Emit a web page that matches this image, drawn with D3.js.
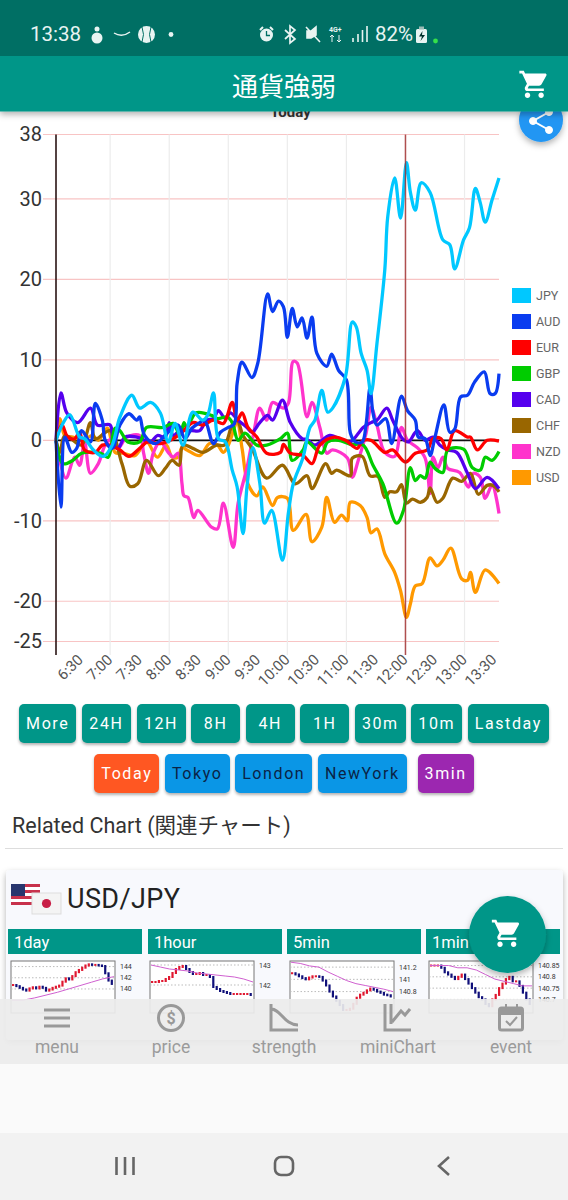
<!DOCTYPE html>
<html>
<head>
<meta charset="utf-8">
<script src="https://cdn.jsdelivr.net/npm/d3@7"></script>
<style>
  html, body { margin: 0; padding: 0; background: #fff; }
  #page { position: relative; width: 568px; height: 1200px; overflow: hidden; font-family: Roboto, "Noto Sans CJK JP", sans-serif; }
  svg { position: absolute; left: 0; top: 0; }
  .row { position: absolute; left: 0; width: 568px; display: flex; justify-content: center; }
  .btn { height: 39px; line-height: 40px; min-width: 49px; box-sizing: border-box; padding: 0 7px; margin: 0 2.8px; text-align: center;
    border-radius: 5px; font-size: 16px; font-weight: 400; letter-spacing: 1.6px; color: #fff; background: #009688;
    box-shadow: 0 2px 3px rgba(0,0,0,.3); white-space: nowrap; }
  .btn.today { background: #ff5722; }
  .btn.session { background: #0a96e6; color: #0b2345; }
  .btn.min { background: #9c27b0; margin-left: 8px; }
</style>
</head>
<body>
<div id="page"></div>
<script>
// time is minutes after 6:05, the left edge of the chart
var jpyTime = [0,7,14,24,29,38,48,57,65,77,85,96,106,114,121,129,139,149,154,160,165,172,179,184,190,194,200,207,212,219,230,236,241,251,258,263,270,276,281,294,301,305,310,316,320,326,334,337,344,350,356,360,365,371,380,393,400,405,414,420,426,431,436,443,450];
var jpyValues = [0,2.1,3.2,.4,.2,-1.2,-2,-.6,2.9,5.6,4,4.7,3.4,-.2,2.1,-.6,3.5,2.5,3.1,5.9,.2,-.2,-3.7,-5.8,-11.6,-5.8,-.9,-5.3,-10.3,-8.7,-14.9,-9.1,-5.4,-2.1,1.6,2.5,6.2,3.5,4,7.9,14.7,14.1,10.8,8.7,5.8,12,21.2,27.8,32.6,27.6,34.5,30.8,28.6,32,30.8,24.9,24.3,21.3,24.9,26.4,31.3,29.5,27.1,29.9,32.6];
var audTime = [0,5,9,16,21,26,35,40,47,50,57,65,74,82,85,90,101,113,124,131,138,146,151,160,167,175,181,184,189,199,205,215,220,226,231,235,240,245,250,255,260,265,275,280,287,295,299,304,311,315,319,322,326,335,341,351,357,365,368,375,380,385,394,400,405,411,418,425,435,441,446,450];
var audValues = [0,-8.3,.4,-1.5,-1,1.2,-.2,4.6,2.5,0,-1,1.9,3.3,2.5,2.9,.6,-.4,.9,1.9,.2,1.5,2.2,2.5,-.4,1,1.6,2,7.1,9.7,7.8,9.6,18.2,16,17.3,16.6,12.8,16.4,14.1,15.2,12.7,15.3,10.8,9.2,10.7,8.7,7.5,.9,-.2,-.2,2,6.6,3.4,1.9,2.7,-.4,5.5,3.7,2.5,.4,.2,-1.9,.4,4.4,1,1.4,5.4,5.6,7.2,8.5,5.8,5.8,8.3];
var eurTime = [0,6,12,19,24,29,40,47,55,65,74,85,93,106,119,128,139,149,160,170,179,184,189,195,204,214,228,231,238,251,260,268,283,294,306,311,320,334,342,355,365,377,383,391,397,405,418,421,428,438,450];
var eurValues = [0,1.9,.4,.2,1,-1.2,-1.5,-.6,-.6,-1.2,-2,-1,-.2,-.4,.2,1,2.2,1.9,2.5,2.1,4.7,2.5,3.4,1.6,.4,-1.6,-1.5,-.5,-1.6,-1.9,-2.9,-.6,.4,0,-1,-.1,0,-1.5,-1.2,-2.7,-1.6,-1.2,.2,.2,-1.2,1.2,.4,.4,-1.2,0,-.1];
var gbpTime = [0,7,17,26,45,53,60,65,73,85,92,109,119,126,130,133,142,158,164,174,179,185,192,204,214,228,235,240,251,255,270,276,287,299,312,322,332,346,353,360,365,370,375,380,385,393,398,414,423,431,436,443,450];
var gbpValues = [0,-2.9,-2.5,-1.6,-1.6,-2.1,1.5,1.2,-.2,-.2,1.6,1.6,2.1,.6,2.2,1.5,3.4,3.1,2.7,2.9,2.2,0,.9,-.6,-.6,.2,.9,-2.5,-1.2,-.2,-1.6,-.2,0,-.5,-.6,-3.1,-5.4,-10.3,-8.7,-3.4,-5,-4.4,-4.7,-2.7,-3.5,-4,-1.2,-1.1,-3.4,-3.7,-2.1,-2.5,-1.4];
var cadTime = [0,5,11,22,35,42,55,58,63,70,82,96,103,111,115,119,126,138,146,153,160,165,172,177,185,194,199,207,215,220,230,238,250,255,263,278,291,299,312,320,326,336,342,352,358,367,375,383,390,398,407,418,426,438,450];
var cadValues = [0,5.9,3.4,2.2,4,1.9,1.9,-.4,-1,.4,.4,-.2,.6,.4,2.2,.6,1.2,1.2,1.2,2.5,2.7,3.7,2.7,3.4,2.5,1.6,1,2.2,3.1,2.5,5,2.2,.2,.1,-.6,.6,0,-.2,1.6,2.2,2.5,4,2.5,.2,-.2,1.2,0,.4,-.6,-1.2,-1.5,-4.1,-6,-4.6,-6];
var chfTime = [0,4,9,26,35,40,55,67,75,83,92,104,111,118,125,129,139,149,163,171,179,184,190,199,214,230,243,255,260,274,280,285,299,301,311,319,327,334,339,346,351,356,362,370,377,380,387,393,403,412,421,429,438,444,450];
var chfValues = [0,-1.5,.6,-.6,2.2,.2,1.2,-2.9,-5.7,-5.4,-2.5,-4.4,-3.5,-2.5,-3.1,-.6,-1,-1.5,-.6,-.6,1.9,2.5,.6,-1,-4.7,-3.1,-5.4,-4.4,-6,-2.9,-4.1,-3.7,-4.4,-2.2,-2,-4.4,-4.5,-7.1,-6.4,-6.4,-5.5,-7.8,-7.3,-7.7,-7.1,-5.9,-7.7,-7.2,-4.7,-5.1,-4.1,-6.7,-5.6,-5.6,-6.4];
var nzdTime = [0,10,19,24,29,35,43,50,57,63,72,85,89,94,99,106,114,119,124,128,130,134,140,144,158,164,170,180,185,194,201,207,214,220,231,236,241,245,255,260,268,275,281,296,301,307,315,320,326,334,344,351,357,367,375,380,383,388,393,398,410,419,424,431,436,443,450];
var nzdValues = [0,-4.7,-2.1,-3.1,-.2,-4.1,-2.9,-.6,.2,-1,.4,.6,-1.6,-4.1,-1.5,-.2,-1.5,-2.1,-1.6,-5.4,-6.9,-7.1,-9.6,-8.7,-10.8,-11,-7.8,-13.3,-7.8,-3.4,1,4,2.5,4.7,4,4.6,9.8,9.6,2.9,4.7,1.6,-1.6,-1.2,-2.2,-4.6,-2.5,.9,4.1,1.9,-1.5,-2,1.6,0,-.9,-2.2,-6.6,-2.1,-3.4,-2.1,-3.5,-4,-5.8,-4.1,-4.6,-7.2,-5.6,-9.1];
var usdTime = [0,4,9,17,27,37,43,52,60,68,80,92,103,112,118,124,128,133,146,156,164,170,175,184,189,195,204,210,220,225,235,241,254,260,270,275,283,290,296,299,309,316,320,326,334,344,350,356,360,365,372,380,387,393,401,412,418,421,426,436,450];
var usdValues = [0,2.7,.6,.4,0,.6,0,1.5,-1.5,-1.6,-1.9,-.2,-2.1,-.6,-2.1,-2.1,-.9,-1.2,-1.9,-.4,-.6,-1.5,-.6,2.1,-1,-5.4,-6.9,-5.8,-8.1,-7.1,-7.2,-11.2,-9.2,-12.6,-10.8,-7.1,-10.2,-9.3,-10,-7.7,-8.1,-9.6,-11.5,-11,-14.1,-16.4,-18.7,-22,-20.3,-18.1,-17.8,-14.6,-15.6,-14.9,-13.4,-17.2,-17.4,-16.4,-18.9,-16.1,-17.8];

var currencies = ["JPY", "AUD", "EUR", "GBP", "CAD", "CHF", "NZD", "USD"];
var currencyColors = ["#00c8ff", "#0a3cf0", "#ff0000", "#00cc00", "#5500ee", "#996600", "#ff33cc", "#ff9900"];
var seriesTimes = [jpyTime, audTime, eurTime, gbpTime, cadTime, chfTime, nzdTime, usdTime];
var seriesValues = [jpyValues, audValues, eurValues, gbpValues, cadValues, chfValues, nzdValues, usdValues];

var yTicks = [38, 30, 20, 10, 0, -10, -20, -25];
var timeTicks = [25, 55, 85, 115, 145, 175, 205, 235, 265, 295, 325, 355, 385, 415, 445];
var timeLabels = ["6:30", "7:00", "7:30", "8:00", "8:30", "9:00", "9:30", "10:00", "10:30", "11:00", "11:30", "12:00", "12:30", "13:00", "13:30"];
var hourTicks = [55, 115, 175, 235, 295, 355, 415];
var markTime = 355;

var rangeButtons = ["More", "24H", "12H", "8H", "4H", "1H", "30m", "10m", "Lastday"];
var sessionButtons = ["Today", "Tokyo", "London", "NewYork", "3min"];
var navLabels = ["menu", "price", "strength", "miniChart", "event"];
var panelLabels = ["1day", "1hour", "5min", "1min"];

// thumbnails under the buttons: closes, moving average, price labels
var dayCloses = [140.7,140.5,140.2,139.9,139.7,140.1,140.3,140.1,140.4,140.2,139.7,139.9,140.2,140.4,140.6,141.3,141.9,141.7,142.3,143,143.4,143.8,144.2,144.4,144.3,144.3,144.2,144.1,142.8,141.5,140.9];
var dayAverage = [138,138,138.4,138.9,139.4,140,140.6,141.2,141.8,142.2];
var dayPrices = [144, 142, 140];
var hourCloses = [142.15,142.15,142.2,142.2,142.3,142.4,142.6,142.8,142.9,142.95,142.8,142.65,142.55,142.55,142.6,142.5,142.5,142.4,141.9,141.8,141.7,141.65,141.6,141.55,141.55,141.55,141.55,141.55,141.55,141.5];
var hourAverage = [143,142.9,142.8,142.75,142.7,142.6,142.55,142.5,142.45,142.4,142.3,142.15];
var hourPrices = [143, 142];
var fiveCloses = [141.1,141.08,141.05,141.02,141,141.03,141.05,141.05,141.04,140.98,140.9,140.8,140.72,140.65,140.58,140.5,140.5,140.52,140.6,140.7,140.75,140.78,140.82,140.85,140.83,140.8,140.78,140.75,140.74,140.72];
var fiveAverage = [141.28,141.26,141.22,141.2,141.12,141.05,140.98,140.93,140.9,140.87,140.84,140.8];
var fivePrices = [141.2, 141, 140.8];
var oneCloses = [140.85,140.85,140.85,140.84,140.82,140.81,140.8,140.79,140.8,140.81,140.79,140.77,140.75,140.73,140.71,140.7,140.68,140.67,140.7,140.72,140.75,140.77,140.79,140.8,140.78,140.78,140.76,140.73,140.7,140.68];
var oneAverage = [140.85,140.85,140.85,140.84,140.84,140.83,140.81,140.79,140.78,140.77,140.76,140.76];
var onePrices = [140.85, 140.8, 140.75, 140.7];

var page = d3.select("#page");
var svg = page.append("svg").attr("width", 568).attr("height", 1200);

var defs = svg.append("defs");
var shadow = defs.append("filter").attr("id", "shadow").attr("x", "-30%").attr("y", "-30%").attr("width", "160%").attr("height", "170%");
shadow.append("feDropShadow").attr("dx", 0).attr("dy", 3).attr("stdDeviation", 3).attr("flood-opacity", 0.3);

// Chart scales
var x = d3.scaleLinear().domain([0, 450]).range([56, 499]);
var y = d3.scaleLinear().domain([-25, 38]).range([641.5, 134.5]);

var chartGroup = svg.append("g");

// grid
chartGroup.selectAll(".hgrid").data(yTicks).enter().append("line")
  .attr("x1", 43).attr("x2", 499)
  .attr("y1", d => y(d)).attr("y2", d => y(d))
  .attr("stroke", "#f8c4c4").attr("stroke-width", 1.2);
chartGroup.selectAll(".vgrid").data(hourTicks).enter().append("line")
  .attr("x1", d => x(d)).attr("x2", d => x(d))
  .attr("y1", 134.5).attr("y2", 655)
  .attr("stroke", "#ececec").attr("stroke-width", 1.2);
chartGroup.append("line")
  .attr("x1", x(0)).attr("x2", 499).attr("y1", y(0)).attr("y2", y(0))
  .attr("stroke", "#111").attr("stroke-width", 1.8);

// axes
var leftAxis = d3.axisLeft(y).tickValues(yTicks).tickSize(0).tickPadding(0).tickFormat(d => String(d));
var yAxis = chartGroup.append("g").attr("transform", "translate(42,0)").call(leftAxis);
yAxis.select(".domain").remove();
yAxis.selectAll("text").attr("font-family", "Roboto").attr("font-size", 20).attr("fill", "#333");

var bottomAxis = d3.axisBottom(x).tickValues(timeTicks).tickSize(0).tickFormat((d, i) => timeLabels[i]);
var xAxis = chartGroup.append("g").attr("transform", "translate(0,655)").call(bottomAxis);
xAxis.select(".domain").remove();
xAxis.selectAll("text")
  .attr("font-family", "Roboto").attr("font-size", 15).attr("fill", "#555")
  .attr("text-anchor", "end").attr("dx", -2).attr("dy", 6).attr("y", 0)
  .attr("transform", "rotate(-45)");

// series lines, first currency ends up on top
var line = d3.line().x(d => x(d[0])).y(d => y(d[1])).curve(d3.curveCatmullRom.alpha(0.5));
var order = d3.range(currencies.length).reverse();
chartGroup.selectAll(".series").data(order).enter().append("path")
  .attr("d", i => line(d3.zip(seriesTimes[i], seriesValues[i])))
  .attr("fill", "none")
  .attr("stroke", i => currencyColors[i])
  .attr("stroke-width", 3.3)
  .attr("stroke-linejoin", "round");

chartGroup.append("line")
  .attr("x1", x(0)).attr("x2", x(0)).attr("y1", 134.5).attr("y2", 655)
  .attr("stroke", "#2a1414").attr("stroke-width", 1.6);
chartGroup.append("line")
  .attr("x1", x(markTime)).attr("x2", x(markTime)).attr("y1", 134.5).attr("y2", 655)
  .attr("stroke", "#a02828").attr("stroke-opacity", 0.8).attr("stroke-width", 1.5);

// legend
var legend = chartGroup.selectAll(".legend").data(currencies).enter().append("g")
  .attr("transform", (d, i) => `translate(512,${288 + i * 26})`);
legend.append("rect").attr("width", 19).attr("height", 15).attr("fill", (d, i) => currencyColors[i]);
legend.append("text").attr("x", 24).attr("y", 12).attr("font-size", 12.5).attr("font-family", "Roboto").attr("fill", "#666").text(d => d);

// Related chart heading
svg.append("text").attr("x", 12).attr("y", 833).attr("font-size", 21.5).attr("fill", "#333").attr("font-family", "Roboto, 'Noto Sans CJK JP'").text("Related Chart (関連チャート)");
svg.append("line").attr("x1", 5).attr("x2", 563).attr("y1", 848.5).attr("y2", 848.5).attr("stroke", "#ddd");

// Card
svg.append("rect").attr("x", 6).attr("y", 870).attr("width", 557).attr("height", 170).attr("rx", 4).attr("fill", "#f8f9fd").attr("filter", "url(#shadow)");

// flags
var us = svg.append("g").attr("transform", "translate(11,884)");
us.append("rect").attr("width", 29).attr("height", 21).attr("fill", "#fff");
us.selectAll(".stripe").data(d3.range(4)).enter().append("rect")
  .attr("y", d => d * 6).attr("width", 29).attr("height", 3).attr("fill", "#c8324c");
us.append("rect").attr("width", 14).attr("height", 12).attr("fill", "#28366e");
svg.append("rect").attr("x", 32).attr("y", 893).attr("width", 29).attr("height", 21).attr("fill", "#f4f4f4").attr("stroke", "#ddd");
svg.append("circle").attr("cx", 46.5).attr("cy", 903.5).attr("r", 4.6).attr("fill", "#c81e46");
svg.append("text").attr("x", 67).attr("y", 908).attr("font-size", 27).attr("letter-spacing", 0.4).attr("fill", "#222").attr("font-family", "Roboto").text("USD/JPY");

// Thumbnail panels
var panels = [
  { closes: dayCloses, average: dayAverage, prices: dayPrices, domain: [135.7, 145], left: 11, head: 8 },
  { closes: hourCloses, average: hourAverage, prices: hourPrices, domain: [140.6, 143.2], left: 150, head: 148 },
  { closes: fiveCloses, average: fiveAverage, prices: fivePrices, domain: [140.45, 141.3], left: 290, head: 287 },
  { closes: oneCloses, average: oneAverage, prices: onePrices, domain: [140.64, 140.87], left: 429, head: 426 }
];
panels.forEach(function(p, k) {
  svg.append("rect").attr("x", p.head).attr("y", 929).attr("width", 134).attr("height", 25).attr("fill", "#009688");
  svg.append("text").attr("x", p.head + 6).attr("y", 947.5).attr("font-size", 16.5).attr("fill", "#fff").attr("font-family", "Roboto").text(panelLabels[k]);

  var g = svg.append("g").attr("transform", `translate(${p.left},961)`);
  g.append("rect").attr("width", 104).attr("height", 52).attr("fill", "#fff").attr("stroke", "#777");
  var px = d3.scaleLinear().domain([0, p.closes.length]).range([1, 103]);
  var py = d3.scaleLinear().domain(p.domain).range([52, 0]);
  p.prices.forEach(function(v) {
    g.append("line").attr("x1", 0).attr("x2", 104).attr("y1", py(v)).attr("y2", py(v)).attr("stroke", "#bbb").attr("stroke-dasharray", "1.5 2");
    g.append("text").attr("x", 109).attr("y", py(v) + 2.5).attr("font-size", 7).attr("fill", "#333").text(v);
  });
  g.selectAll(".candle").data(p.closes).enter().append("rect")
    .attr("x", (d, i) => px(i))
    .attr("width", 2.2)
    .attr("y", (d, i) => py(Math.max(d, i ? p.closes[i - 1] : d)) - 1)
    .attr("height", (d, i) => Math.abs(py(d) - py(i ? p.closes[i - 1] : d)) + 2)
    .attr("fill", (d, i) => (i && d < p.closes[i - 1]) ? "#10107a" : "#e01830");
  var ax = d3.scaleLinear().domain([0, p.average.length - 1]).range([1, 103]);
  g.append("path").attr("d", d3.line().x((d, i) => ax(i)).y(d => py(d))(p.average))
    .attr("fill", "none").attr("stroke", "#d060d0").attr("stroke-width", 1);
});

// Bottom navigation, covers the thumbnails
svg.append("rect").attr("y", 1064).attr("width", 568).attr("height", 70).attr("fill", "#fafafa");
svg.append("rect").attr("y", 999).attr("width", 568).attr("height", 65).attr("fill", "#ececec").attr("fill-opacity", 0.92);
svg.append("rect").attr("y", 1133).attr("width", 568).attr("height", 67).attr("fill", "#f2f2f2");

var navX = [57, 171, 284, 398, 511];
svg.selectAll(".navlabel").data(navLabels).enter().append("text")
  .attr("x", (d, i) => navX[i]).attr("y", 1053).attr("text-anchor", "middle")
  .attr("font-size", 17.5).attr("fill", "#9b9b9b").attr("font-family", "Roboto").text(d => d);

var nav = svg.append("g").attr("fill", "none").attr("stroke", "#999").attr("stroke-width", 3);
nav.append("path").attr("d", "M44 1010H70M44 1018H70M44 1026H70");
nav.append("circle").attr("cx", 171).attr("cy", 1018).attr("r", 12.5);
nav.append("text").attr("x", 171).attr("y", 1024).attr("text-anchor", "middle").attr("font-size", 16).attr("font-weight", 700).attr("fill", "#999").attr("stroke", "none").attr("font-family", "Roboto").text("$");
nav.append("path").attr("d", "M271 1004V1030H298M271 1009C281 1009 284 1025 298 1025");
nav.append("path").attr("d", "M385 1004V1030H411M391 1004V1024M392 1022L401 1011L405 1015L410 1009");
nav.append("rect").attr("x", 499.5).attr("y", 1008).attr("width", 23).attr("height", 22).attr("rx", 2);
nav.append("path").attr("d", "M501 1012H521").attr("stroke-width", 6);
nav.append("path").attr("d", "M506 1004V1009M517 1004V1009M506 1021L510 1025L517 1017").attr("stroke-width", 2);

// Android buttons
var sys = svg.append("g").attr("fill", "none").attr("stroke", "#666").attr("stroke-width", 2.6);
sys.append("path").attr("d", "M116.5 1157V1175M125 1157V1175M133.5 1157V1175");
sys.append("rect").attr("x", 275).attr("y", 1157).attr("width", 18).attr("height", 18).attr("rx", 6);
sys.append("path").attr("d", "M449 1157L439 1166L449 1175");

// Header
var cartPath = "M7 18c-1.1 0-1.99.9-1.99 2S5.9 22 7 22s2-.9 2-2-.9-2-2-2zM1 2v2h2l3.6 7.59-1.35 2.45c-.16.28-.25.61-.25.96 0 1.1.9 2 2 2h12v-2H7.42c-.14 0-.25-.11-.25-.25l.03-.12.9-1.63h7.45c.75 0 1.41-.41 1.75-1.03l3.58-6.47c.08-.14.12-.31.12-.48 0-.55-.45-1-1-1H5.21l-.94-2H1zm16 16c-1.1 0-1.99.9-1.99 2s.89 2 1.99 2 2-.9 2-2-.9-2-2-2z";

svg.append("text").attr("x", 290.5).attr("y", 117).attr("text-anchor", "middle").attr("font-size", 15).attr("font-weight", 700).attr("fill", "#333").attr("font-family", "Roboto").text("Today");

svg.append("circle").attr("cx", 541).attr("cy", 120).attr("r", 22).attr("fill", "#2196f3").attr("filter", "url(#shadow)");
var share = svg.append("g").attr("fill", "#fff").attr("stroke", "#fff");
share.append("path").attr("d", "M549 112L533 121L549 130").attr("fill", "none").attr("stroke-width", 2);
share.append("circle").attr("cx", 549).attr("cy", 112).attr("r", 3.5);
share.append("circle").attr("cx", 533).attr("cy", 121).attr("r", 3.5);
share.append("circle").attr("cx", 549).attr("cy", 130).attr("r", 3.5);

svg.append("rect").attr("y", 56).attr("width", 568).attr("height", 55.5).attr("fill", "#009688").attr("filter", "url(#shadow)");
svg.append("rect").attr("width", 568).attr("height", 56).attr("fill", "#006f64");
svg.append("text").attr("x", 284).attr("y", 96).attr("text-anchor", "middle").attr("font-size", 26).attr("fill", "#fff").attr("font-family", "'Noto Sans CJK JP'").text("通貨強弱");
svg.append("path").attr("d", cartPath).attr("fill", "#fff").attr("transform", "translate(518,68) scale(1.36)");

// status bar
var statusBar = svg.append("g").attr("fill", "#e8f4f2").attr("font-family", "Roboto");
statusBar.append("text").attr("x", 30).attr("y", 41).attr("font-size", 20.5).text("13:38");
statusBar.append("text").attr("x", 375).attr("y", 41).attr("font-size", 20.5).text("82%");
statusBar.append("text").attr("x", 329).attr("y", 32).attr("font-size", 7).attr("font-weight", 700).text("4G+");
statusBar.append("path").attr("d", "M332 35V42M330 37L332 35L334 37M339 35V42M337 40L339 42L341 40").attr("fill", "none").attr("stroke", "#e8f4f2");
statusBar.append("circle").attr("cx", 97).attr("cy", 38).attr("r", 5.5);
statusBar.append("circle").attr("cx", 97).attr("cy", 29).attr("r", 2.5);
statusBar.append("path").attr("d", "M114 33Q122 38 130 32").attr("fill", "none").attr("stroke", "#e8f4f2").attr("stroke-width", 1.4);
statusBar.append("circle").attr("cx", 146.5).attr("cy", 34.5).attr("r", 8.5);
statusBar.append("path").attr("d", "M142 27Q145 34.5 142 42M151 27Q148 34.5 151 42").attr("fill", "none").attr("stroke", "#006f64").attr("stroke-width", 1);
statusBar.append("circle").attr("cx", 171).attr("cy", 34.5).attr("r", 2.4);
statusBar.append("circle").attr("cx", 266.5).attr("cy", 35).attr("r", 6.5);
statusBar.append("path").attr("d", "M266.5 31V35.5H270").attr("fill", "none").attr("stroke", "#006f64").attr("stroke-width", 1.3);
statusBar.append("path").attr("d", "M260 30L263 27M273 30L270 27").attr("fill", "none").attr("stroke", "#e8f4f2").attr("stroke-width", 2);
statusBar.append("path").attr("d", "M285 30L295 39L290 43V26L295 30L285 39").attr("fill", "none").attr("stroke", "#e8f4f2").attr("stroke-width", 1.7);
statusBar.append("path").attr("d", "M307 31H311L316 27V35L311 38H307ZM306 27L320 42").attr("stroke", "#e8f4f2").attr("stroke-width", 1.6);
statusBar.append("path").attr("d", "M353 38V42M358 34V42M362.5 30V42M367 26V42").attr("fill", "none").attr("stroke", "#e8f4f2").attr("stroke-width", 1.6);
statusBar.append("rect").attr("x", 416).attr("y", 29).attr("width", 11).attr("height", 14).attr("rx", 1.5);
statusBar.append("rect").attr("x", 419).attr("y", 26.5).attr("width", 5).attr("height", 3).attr("fill", "#9bbcb6");
statusBar.append("path").attr("d", "M422.5 31L419 36.5H422L420.5 41L425 35H422Z").attr("fill", "#00302a");
svg.append("circle").attr("cx", 435.5).attr("cy", 41).attr("r", 2.4).attr("fill", "#35e04a");

// Big cart button
svg.append("circle").attr("cx", 507.5).attr("cy", 934.5).attr("r", 38.5).attr("fill", "#009688").attr("filter", "url(#shadow)");
svg.append("path").attr("d", cartPath).attr("fill", "#fff").attr("transform", "translate(490.5,917) scale(1.36)");

// Range buttons
var row1 = page.append("div").attr("class", "row").style("top", "704px");
row1.selectAll("div").data(rangeButtons).enter().append("div").attr("class", "btn").text(d => d);
var row2 = page.append("div").attr("class", "row").style("top", "754px");
row2.selectAll("div").data(sessionButtons).enter().append("div")
  .attr("class", (d, i) => "btn " + (i === 0 ? "today" : i === 4 ? "min" : "session"))
  .text(d => d);
</script>
</body>
</html>
